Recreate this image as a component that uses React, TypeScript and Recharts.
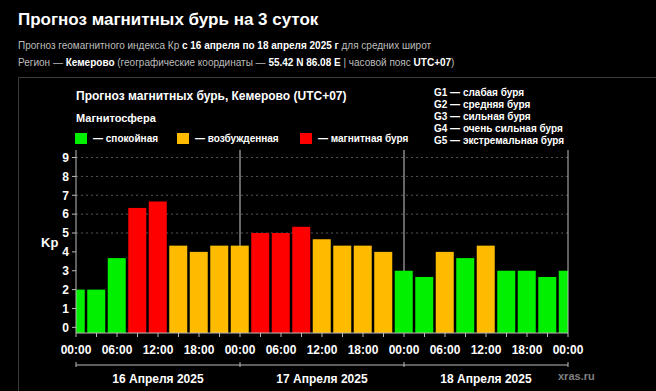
import { Bar, BarChart, Cell, ReferenceLine, XAxis, YAxis } from "recharts";

const hours = [0, 3, 6, 9, 12, 15, 18, 21, 24, 27, 30, 33, 36, 39, 42, 45, 48, 51, 54, 57, 60, 63, 66, 69, 72];
const kpValues = [2, 2, 3.67, 6.33, 6.67, 4.33, 4, 4.33, 4.33, 5, 5, 5.33, 4.67, 4.33, 4.33, 4, 3, 2.67, 4, 3.67, 4.33, 3, 3, 2.67, 3];
const timeTicks = [0, 3, 6, 9, 12, 15, 18, 21, 24, 27, 30, 33, 36, 39, 42, 45, 48, 51, 54, 57, 60, 63, 66, 69, 72];
const dayLabels = ["16 Апреля 2025", "17 Апреля 2025", "18 Апреля 2025"];
const kpTicks = [0, 1, 2, 3, 4, 5, 6, 7, 8, 9];
const gLevels = [5, 6, 7, 8, 9];
const gNames = ["G1", "G2", "G3", "G4", "G5"];
const gDescriptions = ["слабая буря", "средняя буря", "сильная буря", "очень сильная буря", "экстремальная буря"];
const dayBreaks = [24, 48];

const Y_MIN = -0.3;
const Y_MAX = 9.4;
const GREEN = "#00f000";
const YELLOW = "#ffbb00";
const RED = "#ff0000";

const data = hours.map((t, i) => ({ t, kp: kpValues[i] }));

const font = "'Liberation Sans', Arial, sans-serif";

function kpColor(v: number) {
  if (v < 4) return GREEN;
  if (v < 5) return YELLOW;
  return RED;
}

// bars are drawn down to the bottom frame of the plot, not to the 0 line
function KpBar(props: any) {
  const { x, y, width, height, value, fill } = props;
  const v = Array.isArray(value) ? value[1] : value;
  const extra = v ? (height / v) * (0 - Y_MIN) : 0;
  return <rect x={x} y={y} width={width} height={height + extra} fill={fill} />;
}

function TimeTick(props: any) {
  const { x, y, payload } = props;
  const h = payload.value;
  if (h % 6 !== 0) return null;
  const label = String(h % 24).padStart(2, "0") + ":00";
  return (
    <text x={x} y={y + 15} textAnchor="middle" fill="#fff" fontSize={12} fontWeight="bold" fontFamily={font}>
      {label}
    </text>
  );
}

function DayTick(props: any) {
  const { x, y, payload } = props;
  const h = payload.value;
  if (h % 24 === 0) {
    return <line x1={x} x2={x} y1={y - 5} y2={y} stroke="#bbb" strokeWidth={1} />;
  }
  const idx = Math.floor(h / 24);
  return (
    <text x={x} y={y + 16} textAnchor="middle" fill="#fff" fontSize={12} fontWeight="bold" fontFamily={font}>
      {dayLabels[idx]}
    </text>
  );
}

function GTick(props: any) {
  const { x, y, payload } = props;
  const i = gLevels.indexOf(payload.value);
  if (i < 0) return null;
  return (
    <text x={x} y={y + 4} textAnchor="start" fill="#fff" fontSize={12} fontWeight="bold" fontFamily={font}>
      {gNames[i]}
    </text>
  );
}

const legendItems = [
  { color: GREEN, label: "— спокойная", left: 75 },
  { color: YELLOW, label: "— возбужденная", left: 177 },
  { color: RED, label: "— магнитная буря", left: 300 },
];

export default function App() {
  return (
    <div
      style={{
        position: "absolute",
        left: 0,
        top: 0,
        width: 656,
        height: 391,
        background: "#000",
        overflow: "hidden",
        fontFamily: font,
      }}
    >
      <div style={{ position: "absolute", left: 18, top: 10, color: "#fff", fontSize: 17, fontWeight: "bold" }}>
        Прогноз магнитных бурь на 3 суток
      </div>
      <div style={{ position: "absolute", left: 18, top: 40, color: "#bdbdbd", fontSize: 10, whiteSpace: "nowrap" }}>
        Прогноз геомагнитного индекса Кр <b style={{ color: "#fff" }}>с 16 апреля по 18 апреля 2025 г</b> для средних широт
      </div>
      <div style={{ position: "absolute", left: 18, top: 57, color: "#bdbdbd", fontSize: 10, whiteSpace: "nowrap" }}>
        Регион — <b style={{ color: "#fff" }}>Кемерово</b> (географические координаты — <b style={{ color: "#fff" }}>55.42 N 86.08 E</b> | часовой пояс <b style={{ color: "#fff" }}>UTC+07</b>)
      </div>
      <div style={{ position: "absolute", left: 18, top: 77, right: -2, bottom: -2, border: "1px solid #3c3c3c" }} />

      <div style={{ position: "absolute", left: 76, top: 89, color: "#fff", fontSize: 12, fontWeight: "bold", whiteSpace: "nowrap" }}>
        Прогноз магнитных бурь, Кемерово (UTC+07)
      </div>
      <div style={{ position: "absolute", left: 76, top: 112, color: "#fff", fontSize: 11, fontWeight: "bold" }}>
        Магнитосфера
      </div>
      {legendItems.map((it) => (
        <div key={it.label} style={{ position: "absolute", left: it.left, top: 133, display: "flex", alignItems: "center", whiteSpace: "nowrap" }}>
          <div style={{ width: 12, height: 11, background: it.color, marginRight: 6 }} />
          <span style={{ color: "#fff", fontSize: 10, fontWeight: "bold" }}>{it.label}</span>
        </div>
      ))}
      {gNames.map((g, i) => (
        <div key={g} style={{ position: "absolute", left: 434, top: 87 + i * 12, color: "#fff", fontSize: 10, fontWeight: "bold", whiteSpace: "nowrap" }}>
          {g} — {gDescriptions[i]}
        </div>
      ))}
      <div style={{ position: "absolute", left: 41, top: 235, color: "#fff", fontSize: 13, fontWeight: "bold" }}>Kp</div>
      <div style={{ position: "absolute", left: 558, top: 370, color: "#808080", fontSize: 11, fontWeight: "bold" }}>xras.ru</div>

      <div style={{ position: "absolute", left: 0, top: 0 }}>
        <BarChart width={656} height={391} data={data} margin={{ top: 150, right: 48, left: 46, bottom: 6 }} barSize={18}>
          <XAxis
            xAxisId="t0"
            orientation="top"
            dataKey="t"
            type="number"
            domain={[0, 72]}
            height={0}
            tick={false}
            tickLine={false}
            axisLine={{ stroke: "#bbb" }}
          />
          <XAxis
            xAxisId="t1"
            dataKey="t"
            type="number"
            domain={[0, 72]}
            ticks={timeTicks}
            interval={0}
            allowDataOverflow
            height={32}
            tickSize={4}
            tickLine={{ stroke: "#bbb" }}
            axisLine={{ stroke: "#bbb" }}
            tick={<TimeTick />}
          />
          <XAxis
            xAxisId="t2"
            dataKey="t"
            type="number"
            domain={[0, 72]}
            ticks={[0, 12, 24, 36, 48, 60, 72]}
            interval={0}
            height={20}
            tickSize={0}
            tickLine={false}
            axisLine={{ stroke: "#bbb" }}
            tick={<DayTick />}
          />
          <YAxis
            yAxisId="kp"
            type="number"
            domain={[Y_MIN, Y_MAX]}
            ticks={kpTicks}
            interval={0}
            allowDataOverflow
            width={30}
            tickSize={4}
            tickMargin={3}
            tickLine={{ stroke: "#bbb" }}
            axisLine={{ stroke: "#bbb" }}
            tick={{ fill: "#fff", fontSize: 12, fontWeight: "bold", fontFamily: font }}
          />
          <YAxis
            yAxisId="g"
            orientation="right"
            type="number"
            domain={[Y_MIN, Y_MAX]}
            ticks={kpTicks}
            interval={0}
            width={40}
            tickSize={4}
            tickMargin={4}
            tickLine={{ stroke: "#bbb" }}
            axisLine={{ stroke: "#bbb" }}
            tick={<GTick />}
          />
          {gLevels.map((lv) => (
            <ReferenceLine key={lv} xAxisId="t1" yAxisId="kp" y={lv} stroke="#555" strokeDasharray="2 3" zIndex={-100} />
          ))}
          {dayBreaks.map((h) => (
            <ReferenceLine key={h} xAxisId="t1" yAxisId="kp" x={h} stroke="#ccc" strokeWidth={1} zIndex={-100} />
          ))}
          <Bar xAxisId="t1" yAxisId="kp" dataKey="kp" isAnimationActive={false} shape={<KpBar />}>
            {data.map((d) => (
              <Cell key={d.t} fill={kpColor(d.kp)} />
            ))}
          </Bar>
        </BarChart>
      </div>
    </div>
  );
}
